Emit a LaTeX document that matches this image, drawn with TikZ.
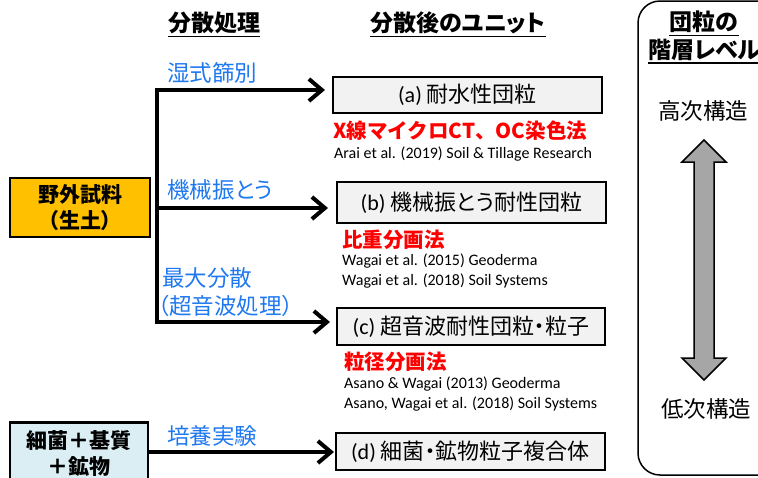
\documentclass[tikz,border=0pt]{standalone}
\usepackage{fontspec}
\setmainfont{Carlito}
\newfontfamily\jp{Noto Sans CJK JP}[RawFeature=+palt]
\newfontfamily\jpw{Noto Sans CJK JP}
\usetikzlibrary{arrows.meta}
\definecolor{lblue}{RGB}{30,120,240}
\definecolor{boxgray}{RGB}{242,242,242}
\definecolor{orangebox}{RGB}{255,192,0}
\definecolor{cyanbox}{RGB}{218,238,243}
\definecolor{arrgray}{RGB}{166,166,166}
\tikzset{
  head/.style={inner sep=0pt, font=\jp\bfseries\fontsize{23}{27}\selectfont},
  unitbox/.style={draw, line width=2pt, fill=boxgray, inner sep=0pt, font=\fontsize{22}{26}\selectfont},
  srcbox/.style={draw, line width=2.5pt, inner sep=0pt, align=center, font=\jp\bfseries\fontsize{21}{26}\selectfont},
  proc/.style={inner sep=0pt, anchor=west, text=lblue, font=\jp\fontsize{22.5}{26}\selectfont},
  meth/.style={inner sep=0pt, anchor=west, text=red, font=\jp\bfseries\fontsize{20.5}{24}\selectfont},
  cite/.style={inner sep=0pt, anchor=base west, font=\fontsize{16}{18}\selectfont},
  level/.style={inner sep=0pt, font=\jp\fontsize{22.5}{26}\selectfont},
  flow/.style={line width=4pt, line join=miter},
  tipx/.tip={Straight Barb[length=13pt, width=22pt]},
  uline/.style={line width=1.2pt}
}
\begin{document}
\begin{tikzpicture}[x=1pt,y=-1pt]
\useasboundingbox (0,0) rectangle (758,477);
\begin{scope}
\clip (0,0) rectangle (758,477);

% headers
\node[head] (h1) at (214,23) {分散処理};
\draw[uline] ([yshift=-2pt]h1.south west) -- ([yshift=-2pt]h1.south east);
\node[head] (h2) at (458,23) {分散後のユニット};
\draw[uline] ([yshift=-2pt]h2.south west) -- ([yshift=-2pt]h2.south east);

% right panel
\draw[line width=1.5pt, rounded corners=22pt] (638,1) rectangle (800,475);
\node[head] (h3) at (704,22) {団粒の};
\draw[uline] ([yshift=-2pt]h3.south west) -- ([yshift=-2pt]h3.south east);
\node[head, anchor=west] (h4) at (648,50) {階層レベル};
\draw[uline] ([yshift=-2pt]h4.south west) -- ([yshift=-2pt]h4.south east);
\node[level] (hi) at (703,111) {高次構造};
\node[level] (lo) at (706,409) {低次構造};
\draw[line width=1.5pt, fill=arrgray, line join=miter]
  (704,140) -- (726,162) -- (714,162) -- (714,358) -- (726,358) -- (704,380)
  -- (682,358) -- (694,358) -- (694,162) -- (682,162) -- cycle;

% source boxes
\node[srcbox, fill=orangebox, minimum width=140, minimum height=59] (soil) at (80,207.5) {野外試料\\（生土）};
\node[srcbox, fill=cyanbox, minimum width=138, minimum height=62] (bact) at (79,453.5) {細菌＋基質\\＋鉱物};

% unit boxes
\node[unitbox, minimum width=269, minimum height=36] (ua) at (467.5,95) {(a) {\jp 耐水性団粒}};
\node[unitbox, minimum width=269, minimum height=41] (ub) at (471.5,202.5) {(b) {\jp 機械振とう耐性団粒}};
\node[unitbox, minimum width=268, minimum height=37] (uc) at (471,326.5) {(c) {\jp 超音波耐性団粒・粒子}};
\node[unitbox, minimum width=269, minimum height=37] (ud) at (470.5,451.5) {(d) {\jp 細菌・鉱物粒子複合体}};

% process labels
\node[proc] (p1) at (167,73) {湿式篩別};
\node[proc] (p2) at (167,190) {機械振とう};
\node[proc] (p3) at (162,278) {最大分散};
\node[proc] (p4) at (158,306) {（超音波処理）};
\node[proc] (p5) at (167,436) {培養実験};

% methods and citations
\node[meth, font=\jpw\bfseries\fontsize{20.5}{24}\selectfont] (m1) at (333,131) {X線マイクロCT、OC染色法};
\node[cite] (c1) at (334,158) {Arai et al. (2019) Soil \& Tillage Research};
\node[meth] (m2) at (342,240) {比重分画法};
\node[cite] (c2) at (342,265) {Wagai et al. (2015) Geoderma};
\node[cite] (c3) at (342,285) {Wagai et al. (2018) Soil Systems};
\node[meth] (m3) at (344,362) {粒径分画法};
\node[cite] (c4) at (344,388) {Asano \& Wagai (2013) Geoderma};
\node[cite] (c5) at (344,408) {Asano, Wagai et al. (2018) Soil Systems};

% connectors
\coordinate (t1) at (157,90);
\coordinate (t2) at (157,208);
\coordinate (t3) at (157,322);
\coordinate (ta) at (325,90);
\coordinate (tb) at (328,208);
\coordinate (tc) at (330,322);
\coordinate (td) at (334,452);
\draw[flow, {tipx}-{tipx}] (ta) -- (t1) -- (t3) -- (tc);
\draw[flow, -{tipx}] (t2) -- (tb);
\draw[flow, -{tipx}] (bact.east |- td) -- (td);
\end{scope}
\end{tikzpicture}
\end{document}
